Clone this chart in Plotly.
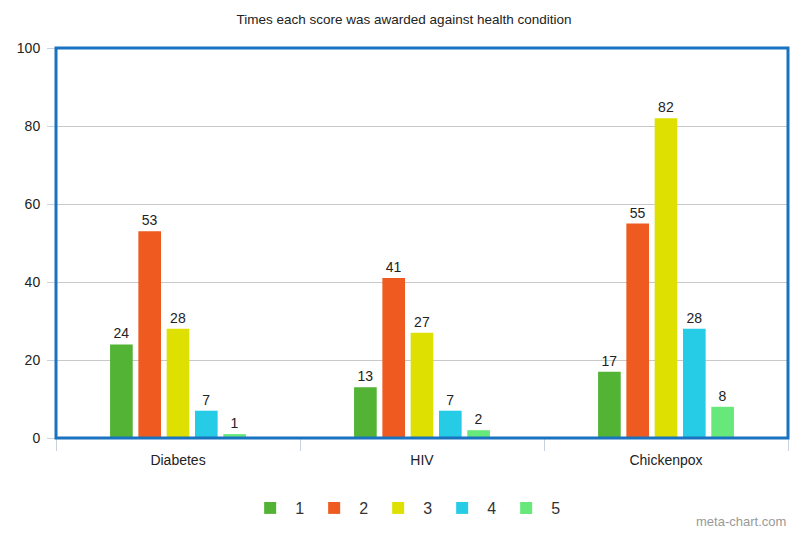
import plotly.graph_objects as go

categories = ["Diabetes", "HIV", "Chickenpox"]
series_names = ["1", "2", "3", "4", "5"]
values = {
    "1": [24, 13, 17],
    "2": [53, 41, 55],
    "3": [28, 27, 82],
    "4": [7, 7, 28],
    "5": [1, 2, 8],
}
colors = ["#52b334", "#ee5a1f", "#dde000", "#26cce5", "#66e87a"]

FONT = "Liberation Sans, Arial"

fig = go.Figure()
for name, col in zip(series_names, colors):
    fig.add_trace(go.Bar(
        x=categories, y=values[name], name=name, showlegend=False,
        marker=dict(color=col, line=dict(width=0)),
        text=values[name], textposition="outside",
        textfont=dict(size=14, color="#222", family=FONT),
        cliponaxis=False,
    ))
# legend entries with square swatches
for name, col in zip(series_names, colors):
    fig.add_trace(go.Scatter(
        x=[None], y=[None], mode="markers", name=name,
        marker=dict(symbol="square", size=20, color=col),
    ))

# page body has an 8px margin, so the figure is 792x525
W, H = 792, 525
L, R, T, B = 48, 12, 40, 95
PH = H - T - B

fig.update_layout(
    width=W, height=H,
    margin=dict(l=L, r=R, t=T, b=B, autoexpand=False),
    paper_bgcolor="white", plot_bgcolor="white",
    barmode="group", bargap=0.42, bargroupgap=0.2,
    title=dict(text="Times each score was awarded against health condition",
               x=0.5, xanchor="center", y=1 - 11 / H, yanchor="middle",
               font=dict(size=13.5, color="#222", family=FONT)),
    font=dict(family=FONT, color="#222"),
    showlegend=True,
    legend=dict(orientation="h", x=0.477, xanchor="center", y=-70 / PH, yanchor="middle",
                font=dict(size=16, color="#333", family=FONT),
                itemsizing="constant", itemwidth=40, traceorder="normal"),
    xaxis=dict(showgrid=False, showline=False, ticks="outside", tickson="boundaries",
               ticklen=12, tickcolor="#c8d4e0", tickfont=dict(size=14),
               ticklabelstandoff=12, automargin=False),
    yaxis=dict(range=[0, 100], dtick=20, showgrid=True, gridcolor="#c8c8c8",
               gridwidth=1, ticks="outside", ticklen=8, tickcolor="#c8d4e0",
               tickfont=dict(size=14), zeroline=False, showline=False,
               ticklabelstandoff=4, automargin=False),
    shapes=[
        dict(type="rect", xref="paper", yref="paper", x0=0, x1=1, y0=0, y1=1,
             line=dict(color="#1a73c0", width=3), layer="above"),
    ],
    annotations=[
        dict(text="meta-chart.com", xref="paper", yref="paper", x=1.0, y=-83 / PH,
             xanchor="right", yanchor="middle", showarrow=False,
             font=dict(size=13, color="#999", family=FONT)),
    ],
)

fig.write_html("out.html")
